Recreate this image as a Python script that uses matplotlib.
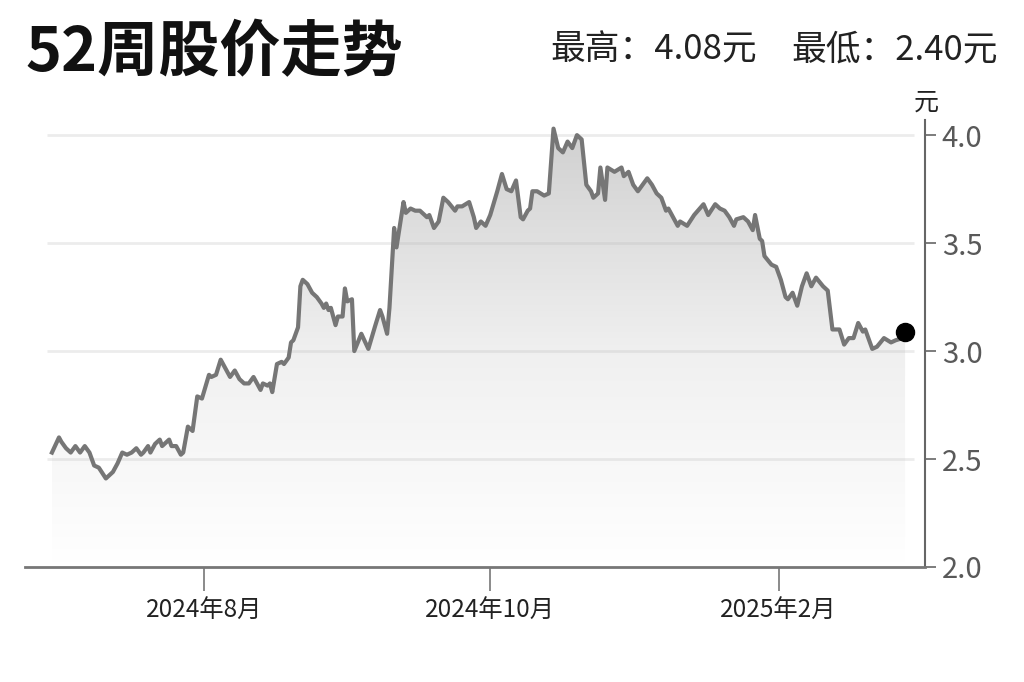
import numpy as np
import matplotlib
matplotlib.use("Agg")
import matplotlib.pyplot as plt
from matplotlib.patches import Polygon
from matplotlib.colors import LinearSegmentedColormap

plt.rcParams['font.family'] = ['Noto Sans CJK SC', 'DejaVu Sans']

# day offsets within the 52-week window and closing price (元)
days = [0, 3, 4, 6, 8, 10, 12, 14, 16, 18, 20, 23, 26, 28, 30, 32, 34, 36, 38, 39,
        41, 42, 44, 46, 47, 50, 51, 53, 55, 56, 58, 60, 62, 64, 67, 68, 70, 72, 73, 76,
        78, 80, 82, 84, 86, 89, 90, 92, 93, 94, 96, 98, 99, 101, 102, 103, 105, 106, 107, 109,
        111, 113, 115, 116, 117, 118, 119, 121, 122, 124, 125, 126, 128, 129, 132, 135, 138, 140, 141, 143,
        144, 146, 147, 150, 151, 153, 155, 157, 160, 161, 163, 165, 167, 169, 172, 173, 175, 178, 180, 181,
        183, 185, 187, 190, 192, 194, 196, 198, 200, 201, 203, 204, 205, 207, 210, 212, 214, 216, 218, 220,
        222, 224, 226, 228, 230, 231, 233, 234, 236, 237, 240, 243, 244, 246, 248, 250, 254, 256, 258, 260,
        262, 263, 267, 268, 271, 274, 278, 280, 283, 285, 287, 289, 291, 292, 295, 297, 299, 300, 302, 303,
        304, 307, 309, 311, 313, 314, 316, 318, 320, 322, 324, 326, 329, 331, 332, 333, 335, 336, 338, 340,
        342, 344, 346, 347, 350, 352, 355, 358, 360, 363, 364]
prices = [2.53, 2.60, 2.58, 2.55, 2.53, 2.56, 2.53, 2.56, 2.53, 2.47, 2.46, 2.41, 2.44, 2.48, 2.53, 2.52, 2.53, 2.55, 2.52, 2.53,
          2.56, 2.53, 2.57, 2.59, 2.56, 2.59, 2.56, 2.56, 2.52, 2.53, 2.65, 2.63, 2.79, 2.78, 2.89, 2.88, 2.89, 2.96, 2.94, 2.88,
          2.91, 2.87, 2.85, 2.85, 2.88, 2.82, 2.85, 2.84, 2.85, 2.81, 2.94, 2.95, 2.94, 2.97, 3.04, 3.05, 3.11, 3.30, 3.33, 3.31,
          3.27, 3.25, 3.22, 3.20, 3.22, 3.19, 3.20, 3.12, 3.16, 3.16, 3.29, 3.23, 3.24, 3.00, 3.08, 3.01, 3.12, 3.19, 3.16, 3.08,
          3.20, 3.57, 3.48, 3.69, 3.64, 3.66, 3.65, 3.65, 3.62, 3.63, 3.57, 3.60, 3.71, 3.69, 3.65, 3.67, 3.67, 3.69, 3.62, 3.57,
          3.60, 3.58, 3.63, 3.74, 3.82, 3.75, 3.74, 3.79, 3.62, 3.61, 3.65, 3.66, 3.74, 3.74, 3.72, 3.73, 4.03, 3.94, 3.92, 3.97,
          3.94, 4.00, 3.98, 3.77, 3.74, 3.71, 3.73, 3.85, 3.70, 3.85, 3.83, 3.85, 3.81, 3.83, 3.77, 3.74, 3.80, 3.77, 3.73, 3.71,
          3.65, 3.66, 3.58, 3.60, 3.58, 3.63, 3.68, 3.63, 3.68, 3.66, 3.65, 3.62, 3.58, 3.61, 3.62, 3.60, 3.56, 3.63, 3.52, 3.51,
          3.44, 3.40, 3.39, 3.33, 3.25, 3.24, 3.27, 3.21, 3.30, 3.36, 3.30, 3.34, 3.30, 3.28, 3.19, 3.10, 3.10, 3.10, 3.03, 3.06,
          3.06, 3.13, 3.09, 3.10, 3.01, 3.02, 3.06, 3.04, 3.05, 3.06, 3.09]

tick_days = [65, 187, 310]
tick_labels = ['2024年8月', '2024年10月', '2025年2月']
y_ticks = [2.0, 2.5, 3.0, 3.5, 4.0]

fig = plt.figure(figsize=(10.24, 6.82), dpi=100)
ax = fig.add_axes([25/1024, 1 - 567/682, 900/1024, 447/682])

ymin, ymax = 2.0, 4.07

# light grid
ax.hlines(y_ticks[1:], -2, 368, colors='#ececec', lw=2, zorder=0)

# gradient fill under the line
verts = [(days[0], ymin)] + list(zip(days, prices)) + [(days[-1], ymin)]
poly = Polygon(verts, closed=True, facecolor='none', edgecolor='none')
ax.add_patch(poly)
cmap = LinearSegmentedColormap.from_list('g', [(0.7, 0.7, 0.7, 0.0), (0.7, 0.7, 0.7, 0.2),
                                               (0.7, 0.7, 0.7, 0.6)])
grad = np.linspace(1, 0, 256).reshape(-1, 1)
img = ax.imshow(grad, cmap=cmap, extent=[days[0], days[-1], ymin, 4.0],
                aspect='auto', origin='upper', zorder=1, interpolation='bicubic')
img.set_clip_path(poly)

ax.plot(days, prices, color='#767676', lw=3, zorder=3)
ax.plot(days[-1], prices[-1], 'o', color='black', ms=13, zorder=5, clip_on=False)

ax.set_xlim(-11.5, 372.5)
ax.set_ylim(ymin, ymax)

for s in ['top', 'left']:
    ax.spines[s].set_visible(False)
ax.spines['right'].set_color('#666666')
ax.spines['right'].set_linewidth(1.5)
ax.spines['bottom'].set_color('#777777')
ax.spines['bottom'].set_linewidth(2)

ax.yaxis.tick_right()
ax.set_yticks(y_ticks)
ax.set_yticklabels([f'{v:.1f}' for v in y_ticks])
ax.tick_params(axis='y', length=8, width=1.2, color='#666666', labelcolor='#595959',
               labelsize=21, pad=4)
ax.set_xticks(tick_days)
ax.set_xticklabels(tick_labels)
ax.tick_params(axis='x', length=17, width=1.2, color='#777777', labelcolor='#222222',
               labelsize=17.5, pad=5)

fig.text(25/1024, 1 - 53/682, '52周股价走势', fontsize=44, fontweight='bold',
         va='center', ha='left', color='#111111')
fig.text(550/1024, 1 - 50/682, '最高：4.08元', fontsize=25, va='center', ha='left', color='#222222')
fig.text(998/1024, 1 - 50/682, '最低：2.40元', fontsize=25, va='center', ha='right', color='#222222')
fig.text(926/1024, 1 - 103/682, '元', fontsize=18, va='center', ha='center', color='#222222')

fig.savefig('out.png', dpi=100)
